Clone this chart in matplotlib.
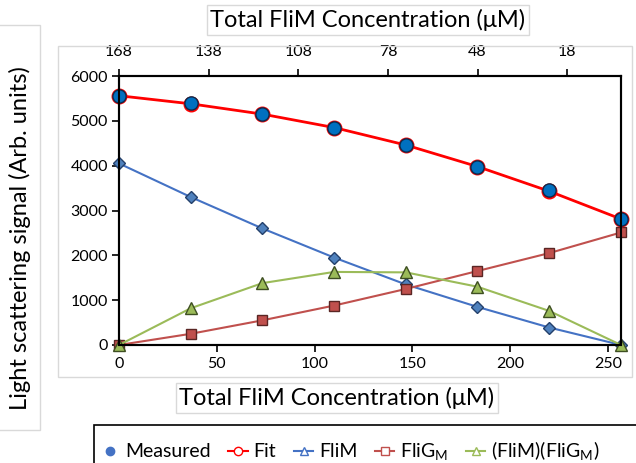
import matplotlib.pyplot as plt
from matplotlib.patches import Rectangle
from matplotlib.lines import Line2D

plt.rcParams['font.family'] = ['Lato', 'DejaVu Sans']

conc = [0, 36.7, 73.3, 110, 146.7, 183.3, 220, 256.7]
measured = [5550, 5400, 5150, 4850, 4450, 3980, 3450, 2800]
fit = [5560, 5380, 5150, 4850, 4460, 3980, 3430, 2810]
flim = [4050, 3300, 2600, 1950, 1350, 850, 390, 0]
fligm = [0, 250, 550, 880, 1250, 1650, 2050, 2510]
complex_ = [0, 820, 1380, 1630, 1620, 1300, 760, 0]

top_ticks = [168, 138, 108, 78, 48, 18]
bottom_ticks = [0, 50, 100, 150, 200, 250]
y_ticks = [0, 1000, 2000, 3000, 4000, 5000, 6000]

W, H = 636, 463
fig = plt.figure(figsize=(W / 100, H / 100), dpi=100)


def fx(px):
    return px / W


def fy(py):
    return 1 - py / H


# chart area border and y-label box
fig.patches.append(Rectangle((fx(58), fy(377)), fx(632) - fx(58), fy(46) - fy(377),
                             transform=fig.transFigure, fill=False, ec='#D9D9D9', lw=1))
fig.patches.append(Rectangle((fx(-5), fy(430)), fx(40) - fx(-5), fy(25) - fy(430),
                             transform=fig.transFigure, fc='white', ec='#D9D9D9', lw=1))

ax = fig.add_axes([fx(119), fy(345), fx(621) - fx(119), fy(76) - fy(345)])

ax.plot(conc, flim, color='#4472C4', lw=1.5, marker='D', ms=6,
        mfc='#4F81BD', mec='#24406B', clip_on=False, zorder=3)
ax.plot(conc, fligm, color='#C0504D', lw=1.5, marker='s', ms=7,
        mfc='#C0504D', mec='#5A2624', clip_on=False, zorder=3)
ax.plot(conc, complex_, color='#9BBB59', lw=1.5, marker='^', ms=8,
        mfc='#9BBB59', mec='#3E4F22', clip_on=False, zorder=3)
ax.plot(conc, fit, color='#FF0000', lw=2, marker='o', ms=10.5,
        mfc='#FF0000', mec='#FF0000', clip_on=False, zorder=4)
ax.plot(conc, measured, ls='none', marker='o', ms=9.5,
        mfc='#0070C0', mec='#0F2A4A', mew=1, clip_on=False, zorder=5)

ax.set_xlim(0, 256.7)
ax.set_ylim(0, 6000)
ax.set_xticks(bottom_ticks)
ax.set_yticks(y_ticks)
ax.tick_params(axis='both', direction='out', length=5, width=1.2, labelsize=11.5, colors='black')
ax.tick_params(axis='x', pad=4)
ax.tick_params(axis='y', pad=3)
for s in ax.spines.values():
    s.set_linewidth(1.5)
    s.set_color('black')

ax2 = ax.twiny()
ax2.set_xlim(168, 0)
ax2.set_xticks(top_ticks)
ax2.tick_params(axis='x', direction='out', length=5, width=1.2, labelsize=11.5, pad=7)
for s in ax2.spines.values():
    s.set_linewidth(1.5)

box = dict(boxstyle='square,pad=0.15', fc='white', ec='#D9D9D9', lw=1)
fig.text(fx(368), fy(20), 'Total FliM Concentration (μM)', fontsize=17,
         ha='center', va='center', bbox=box)
fig.text(fx(337), fy(398), 'Total FliM Concentration (μM)', fontsize=17,
         ha='center', va='center', bbox=box)
fig.text(fx(20), fy(238), 'Light scattering signal (Arb. units)', fontsize=17,
         ha='center', va='center', rotation=90)

# legend
fig.patches.append(Rectangle((fx(94), fy(480)), fx(650) - fx(94), fy(425) - fy(480),
                             transform=fig.transFigure, fc='white', ec='black', lw=1.2))
handles = [
    Line2D([], [], ls='none', marker='o', ms=6, mfc='#4472C4', mec='#4472C4'),
    Line2D([], [], color='#FF0000', lw=1.5, marker='o', ms=6, mfc='white', mec='#FF0000'),
    Line2D([], [], color='#4472C4', lw=1.5, marker='^', ms=6, mfc='white', mec='#4472C4'),
    Line2D([], [], color='#C0504D', lw=1.5, marker='s', ms=6, mfc='white', mec='#C0504D'),
    Line2D([], [], color='#9BBB59', lw=1.5, marker='^', ms=6, mfc='white', mec='#9BBB59'),
]
labels = ['Measured', 'Fit', 'FliM', 'FliG$_\\mathregular{M}$', '(FliM)(FliG$_\\mathregular{M}$)']
fig.legend(handles, labels, loc='center left', bbox_to_anchor=(fx(100), fy(451)),
           ncol=5, frameon=False, fontsize=14, handlelength=1.0, handletextpad=0.3,
           columnspacing=0.9, borderaxespad=0, borderpad=0)

fig.savefig('out.png', dpi=100)
